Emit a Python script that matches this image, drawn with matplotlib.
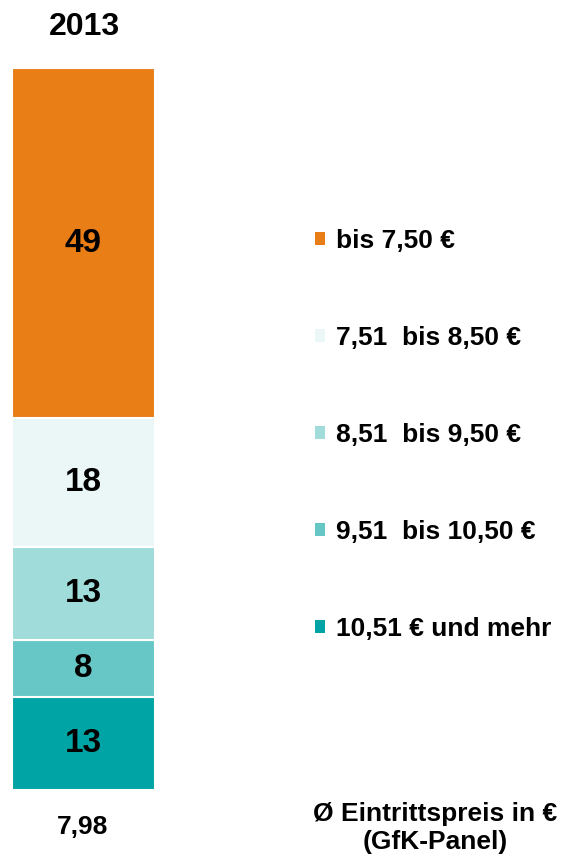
import matplotlib.pyplot as plt
from matplotlib.patches import Patch

plt.rcParams['font.family'] = ['Liberation Sans', 'DejaVu Sans']
plt.rcParams['font.weight'] = 'bold'

# categories top to bottom, as in the legend
categories = ['bis 7,50 €', '7,51  bis 8,50 €', '8,51  bis 9,50 €',
              '9,51  bis 10,50 €', '10,51 € und mehr']
shares = [49, 18, 13, 8, 13]
colors = ['#E97E17', '#EAF7F6', '#9FDCDA', '#67C7C6', '#00A4A4']
year = '2013'
avg_price = '7,98'

W, H = 561, 858
fig = plt.figure(figsize=(W / 100, H / 100), dpi=100)
ax = fig.add_axes([12 / W, (H - 790) / H, (155 - 12) / W, 722 / H])

# stack from the bottom up
bottom = 0
for cat, val, col in reversed(list(zip(categories, shares, colors))):
    bars = ax.bar(0, val, bottom=bottom, width=1, color=col,
                  edgecolor='white', linewidth=1.5)
    ax.bar_label(bars, labels=[str(val)], label_type='center',
                 fontsize=24, fontweight='bold', color='black')
    bottom += val

ax.set_xlim(-0.5, 0.5)
ax.set_ylim(0, sum(shares))
ax.axis('off')

handles = [Patch(facecolor=c, edgecolor='none') for c in colors]
leg = fig.legend(handles, categories, loc='upper left',
                 bbox_to_anchor=(291 / W, 1 - 205 / H), frameon=False,
                 prop={'size': 19, 'weight': 'bold'},
                 handlelength=0.4, handleheight=0.4, handletextpad=0.42,
                 labelspacing=2.77)

fig.text(84 / W, 1 - 27 / H, year, ha='center', va='center',
         fontsize=23, fontweight='bold')
fig.text(83 / W, 1 - 827 / H, avg_price, ha='center', va='center',
         fontsize=19, fontweight='bold')
fig.text(435 / W, 1 - 828 / H, 'Ø Eintrittspreis in €\n(GfK-Panel)',
         ha='center', va='center', fontsize=19, fontweight='bold',
         linespacing=1.22)

fig.savefig('out.png', dpi=100)
